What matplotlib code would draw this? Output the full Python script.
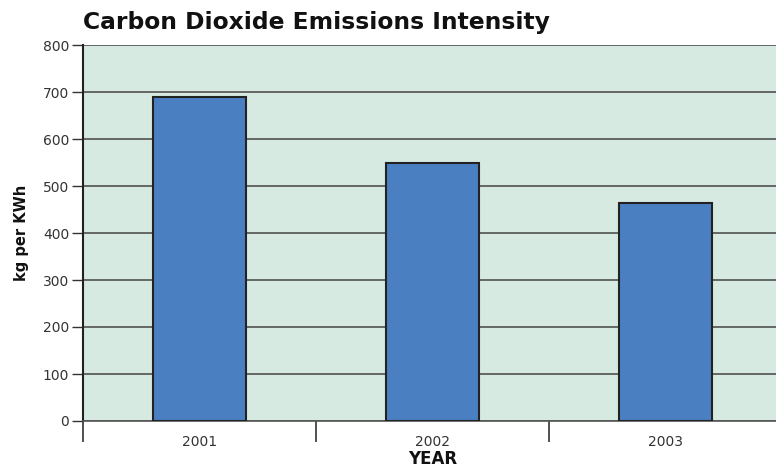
import matplotlib
matplotlib.use("Agg")
import matplotlib.pyplot as plt

years = ["2001", "2002", "2003"]
values = [690, 550, 463]
yticks = [0, 100, 200, 300, 400, 500, 600, 700, 800]

plt.rcParams['font.family'] = ['DejaVu Sans']

fig = plt.figure(figsize=(7.76, 4.67), dpi=100)
ax = fig.add_axes([83/776, 1-421/467, (782-83)/776, (421-45)/467])
ax.set_facecolor('#d6eae2')

x = list(range(len(years)))
ax.bar(x, values, width=0.40, color='#4a80c2', edgecolor='#222222', linewidth=1.5, zorder=3)

ax.set_xlim(-0.5, len(years) - 0.5)
ax.set_ylim(0, 800)
ax.set_yticks(yticks)
ax.set_yticklabels([str(v) for v in yticks], fontsize=10, color='#333333')
ax.yaxis.grid(True, color='#444444', linewidth=1.1, zorder=1)
ax.set_axisbelow(True)

ax.set_xticks(x)
ax.set_xticklabels(years, fontsize=10, color='#333333')
ax.tick_params(axis='x', which='major', length=0, pad=10)
ax.set_xticks([-0.5, 0.5, 1.5], minor=True)
ax.tick_params(axis='x', which='minor', length=15, width=1.2, color='#333333', direction='out')
ax.tick_params(axis='y', length=8, width=1.0, color='#333333', pad=2)

for s in ['top', 'right']:
    ax.spines[s].set_visible(False)
ax.spines['left'].set_color('#222222')
ax.spines['left'].set_linewidth(1.5)
ax.spines['bottom'].set_color('#555555')
ax.spines['bottom'].set_linewidth(1.2)

ax.set_ylabel('kg per KWh', fontsize=10.5, fontweight='bold', color='#111111', labelpad=10)
ax.set_xlabel('YEAR', fontsize=12, fontweight='bold', color='#111111', labelpad=1)

fig.text(83/776, 1-22.5/467, 'Carbon Dioxide Emissions Intensity', fontsize=16.8, fontweight='bold',
         color='#111111', ha='left', va='center')

fig.savefig('out.png', dpi=100)
